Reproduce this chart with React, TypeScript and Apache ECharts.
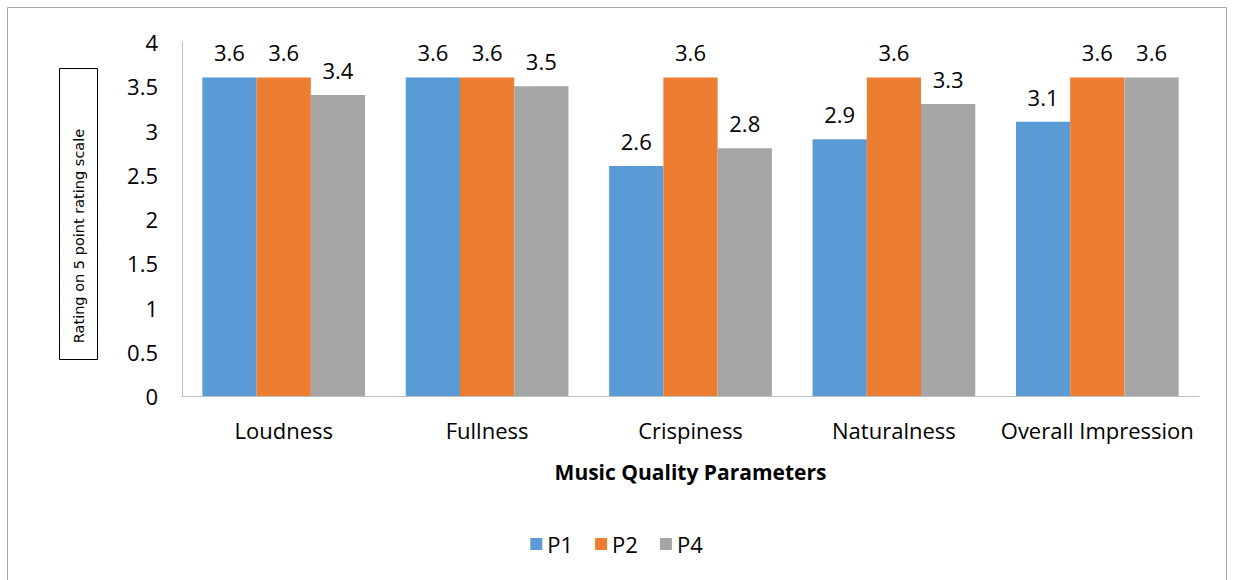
import React, { useEffect, useRef } from "react";
import * as echarts from "echarts";

const categories = ["Loudness", "Fullness", "Crispiness", "Naturalness", "Overall Impression"];
const p1 = [3.6, 3.6, 2.6, 2.9, 3.1];
const p2 = [3.6, 3.6, 3.6, 3.6, 3.6];
const p4 = [3.4, 3.5, 2.8, 3.3, 3.6];
const seriesNames = ["P1", "P2", "P4"];
const colors = ["#5B9BD5", "#ED7D31", "#A5A5A5"];
const yTitle = "Rating on 5 point rating scale";
const xTitle = "Music Quality Parameters";

const FONT = "'Open Sans', 'Noto Sans', sans-serif";
const FS = 22;

export default function App() {
  const ref = useRef<HTMLDivElement>(null);
  useEffect(() => {
    const chart = echarts.init(ref.current!, null, { renderer: "svg" });
    const values = [p1, p2, p4];
    chart.setOption({
      animation: false,
      backgroundColor: "#fff",
      textStyle: { fontFamily: FONT },
      grid: { left: 182, right: 34, top: 42, bottom: 184 },
      legend: {
        data: seriesNames,
        bottom: 20,
        left: "center",
        itemWidth: 12,
        itemHeight: 12,
        itemGap: 22,
        icon: "rect",
        textStyle: { fontSize: FS, color: "#000", fontFamily: FONT },
      },
      xAxis: {
        type: "category",
        data: categories,
        axisLine: { lineStyle: { color: "#BFBFBF", width: 1 } },
        axisTick: { show: false },
        axisLabel: { fontSize: FS, color: "#000", margin: 23, interval: 0, fontFamily: FONT },
        name: xTitle,
        nameLocation: "middle",
        nameGap: 65,
        nameTextStyle: { fontSize: 21, fontWeight: "bold", color: "#000", fontFamily: FONT },
      },
      yAxis: {
        type: "value",
        min: 0,
        max: 4,
        interval: 0.5,
        axisLine: { show: true, lineStyle: { color: "#BFBFBF", width: 1 } },
        axisTick: { show: false },
        splitLine: { show: false },
        axisLabel: { fontSize: FS, color: "#000", margin: 24, fontFamily: FONT },
      },
      series: seriesNames.map((n, i) => ({
        name: n,
        type: "bar",
        data: values[i],
        barGap: "0%",
        barCategoryGap: "20%",
        itemStyle: { color: colors[i] },
        label: {
          show: true,
          position: "top",
          distance: 14,
          fontSize: FS,
          color: "#000",
          fontFamily: FONT,
        },
      })),
      graphic: [
        {
          type: "rect",
          shape: { x: 7.5, y: 7.5, width: 1219, height: 590 },
          style: { fill: "none", stroke: "#A6A6A6", lineWidth: 1 },
          silent: true,
        },
        {
          type: "rect",
          shape: { x: 59.5, y: 68.5, width: 38, height: 291 },
          style: { fill: "#fff", stroke: "#000", lineWidth: 1 },
          silent: true,
        },
        {
          type: "text",
          x: 79,
          y: 236,
          rotation: Math.PI / 2,
          style: {
            text: yTitle,
            fontSize: 14.5,
            fontFamily: "DejaVu Sans",
            fill: "#000",
            align: "center",
            verticalAlign: "middle",
          },
          silent: true,
        },
      ],
    });
    return () => chart.dispose();
  }, []);
  return (
    <div
      ref={ref}
      style={{ position: "absolute", left: 0, top: 0, width: 1233, height: 580 }}
    />
  );
}
